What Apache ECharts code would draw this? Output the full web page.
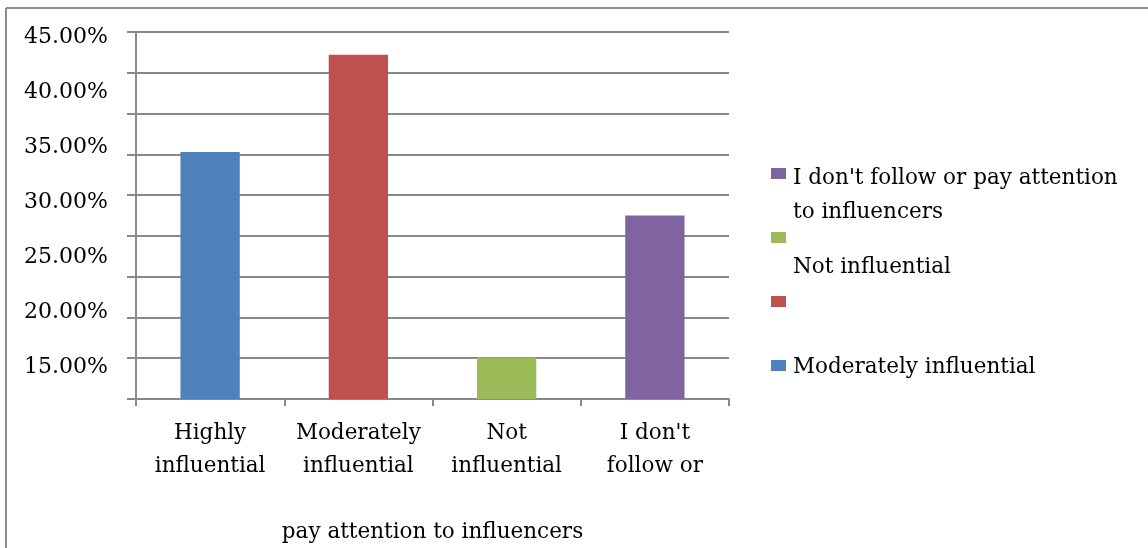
<!DOCTYPE html>
<html>
<head>
<meta charset="utf-8">
<script src="https://cdn.jsdelivr.net/npm/echarts@6/dist/echarts.min.js"></script>
<style>
  html, body { margin: 0; padding: 0; background: #fff; }
  #chart { width: 1148px; height: 548px; }
</style>
</head>
<body>
<div id="chart"></div>
<script>
// Survey answers: how influential influencers are on the respondent
const categories = ['Highly\ninfluential', 'Moderately\ninfluential', 'Not\ninfluential', "I don't\nfollow or"];
const shares = [30.3, 42.2, 5.1, 22.5];          // percent of respondents
const barColors = ['#4F81BD', '#C0504D', '#9BBB59', '#8064A2'];

// Value scale of the plot (gridlines every 5 %)
const scaleMin = 0, scaleMax = 45, scaleStep = 5;
// Printed percentage labels down the left side
const labelTicks = [15, 20, 25, 30, 35, 40, 45];

// Legend rows as printed, top to bottom
const legendColors = ['#8064A2', '#9BBB59', '#C0504D', '#4F81BD'];
const legendLines = [
  ["I don't follow or pay attention", 'to influencers'],
  ['', 'Not influential'],
  [''],
  ['Moderately influential']
];
const axisTail = 'pay attention to influencers';

const FONT = 'DejaVu Serif';
const GRID_COL = '#898989';

const chart = echarts.init(document.getElementById('chart'), null, { renderer: 'canvas' });

// legend drawn as small squares with text beside them
const legendGraphics = [];
const squareTop = [168, 232, 296, 360];
const textCenters = [[178, 212], [null, 267], [null], [367]];
legendLines.forEach((lines, i) => {
  legendGraphics.push({
    type: 'rect', x: 771, y: squareTop[i],
    shape: { width: 15, height: 11 },
    style: { fill: legendColors[i] }
  });
  lines.forEach((t, j) => {
    if (!t) return;
    legendGraphics.push({
      type: 'text', x: 793, y: textCenters[i][j],
      style: { text: t, font: '21.5px "' + FONT + '"', fill: '#000', verticalAlign: 'middle', align: 'left' }
    });
  });
});

chart.setOption({
  backgroundColor: '#fff',
  animation: false,
  grid: [
    { left: 136, right: 419, top: 32, bottom: 147, containLabel: false },
    { left: 136, right: 419, top: 37, bottom: 181, containLabel: false }
  ],
  xAxis: [
    {
      type: 'category', gridIndex: 0, data: categories,
      boundaryGap: true,
      axisLine: { lineStyle: { color: GRID_COL, width: 2 } },
      axisTick: { show: true, length: 7, alignWithLabel: false, lineStyle: { color: GRID_COL, width: 2 } },
      axisLabel: { color: '#000', fontFamily: FONT, fontSize: 21.5, lineHeight: 33, margin: 18, interval: 0 },
      name: axisTail, nameLocation: 'middle', nameGap: 122,
      nameTextStyle: { color: '#000', fontFamily: FONT, fontSize: 21.5 }
    },
    { type: 'value', gridIndex: 1, show: false }
  ],
  yAxis: [
    {
      type: 'value', gridIndex: 0, min: scaleMin, max: scaleMax, interval: scaleStep,
      axisLine: { show: true, lineStyle: { color: GRID_COL, width: 2 } },
      axisTick: { show: true, length: 9, lineStyle: { color: GRID_COL, width: 2 } },
      axisLabel: { show: false },
      splitLine: { show: true, lineStyle: { color: GRID_COL, width: 2 } }
    },
    {
      type: 'value', gridIndex: 1,
      min: labelTicks[0], max: labelTicks[labelTicks.length - 1],
      interval: labelTicks[1] - labelTicks[0],
      axisLine: { show: false }, axisTick: { show: false }, splitLine: { show: false },
      axisLabel: {
        color: '#000', fontFamily: FONT, fontSize: 22, margin: 28,
        formatter: v => v.toFixed(2) + '%'
      }
    }
  ],
  series: [
    {
      type: 'bar', xAxisIndex: 0, yAxisIndex: 0, barWidth: '40%',
      data: shares.map((v, i) => ({ value: v, itemStyle: { color: barColors[i] } }))
    },
    { type: 'scatter', xAxisIndex: 1, yAxisIndex: 1, data: [], silent: true }
  ],
  graphic: [
    // outer frame edges
    { type: 'line', shape: { x1: 6, y1: 8, x2: 1148, y2: 8 }, style: { stroke: '#8c8c8c', lineWidth: 2 } },
    { type: 'line', shape: { x1: 6, y1: 8, x2: 6, y2: 548 }, style: { stroke: '#8c8c8c', lineWidth: 2 } }
  ].concat(legendGraphics)
});
</script>
</body>
</html>
